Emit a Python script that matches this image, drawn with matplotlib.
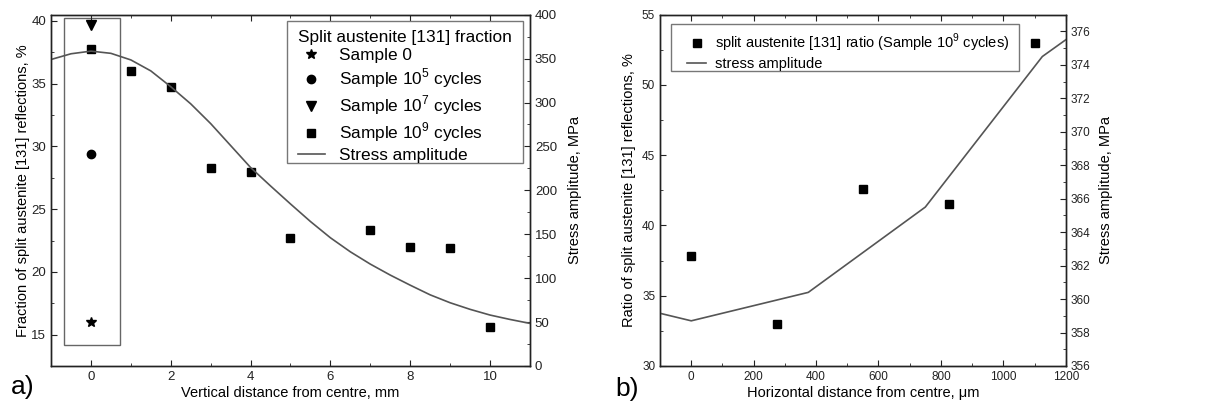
import matplotlib.pyplot as plt
from matplotlib.patches import Rectangle
from matplotlib.ticker import MultipleLocator

plt.rcParams['font.family'] = ['Liberation Sans', 'DejaVu Sans']
plt.rcParams['mathtext.fontset'] = 'custom'
plt.rcParams['mathtext.rm'] = 'Liberation Sans'

# panel a) data
pos_mm = [0, 1, 2, 3, 4, 5, 7, 8, 9, 10]
frac_1e9 = [37.8, 36.0, 34.7, 28.3, 28.0, 22.7, 23.3, 22.0, 21.9, 15.6]
frac_s0 = [16.0]
frac_1e5 = [29.4]
frac_1e7 = [39.7]

stress_mm = [-1, -0.5, 0, 0.5, 1, 1.5, 2, 2.5, 3, 3.5, 4, 4.5, 5, 5.5, 6, 6.5,
             7, 7.5, 8, 8.5, 9, 9.5, 10, 10.5, 11]
stress_a = [349, 355.5, 358.5, 356, 348.5, 336, 318, 298.5, 276, 251, 226, 205,
            184.5, 164.5, 146, 130, 116, 103.5, 92, 81, 72, 64.5, 58, 53, 48.5]

# panel b) data
pos_um = [0, 275, 550, 825, 1100]
ratio_1e9 = [37.8, 33.0, 42.6, 41.5, 53.0]
stress_um = [-100, 0, 375, 750, 1125, 1200]
stress_b = [359.15, 358.7, 360.4, 365.5, 374.5, 375.5]

line_col = '#555555'
fs_lab = 10.5

fig = plt.figure(figsize=(12.18, 4.15), dpi=100)
ax1 = fig.add_axes([0.0419, 0.1181, 0.3932, 0.8465])
ax2 = fig.add_axes([0.5419, 0.1181, 0.3331, 0.8465])


def style(ax, fs, top=True):
    ax.tick_params(which='both', direction='in', top=top, labelsize=fs,
                   colors='#222222')
    ax.tick_params(which='major', length=4)
    ax.tick_params(which='minor', length=2.5)
    for s in ax.spines.values():
        s.set_linewidth(1.0)
        s.set_color('#222222')


def legend_box(ax, x0, y0, x1, y1):
    ax.add_patch(Rectangle((x0, y0), x1 - x0, y1 - y0, transform=ax.transAxes,
                           facecolor='white', edgecolor='#777777', lw=1.0,
                           zorder=4, clip_on=False))


# ---- a)
ax1.add_patch(Rectangle((-0.67, 14.15), 1.41, 26.09, fill=False,
                        edgecolor='#666666', lw=1.0))
h_s0, = ax1.plot([0], frac_s0, '*', color='black', ms=7, ls='none')
h_1e5, = ax1.plot([0], frac_1e5, 'o', color='black', ms=6, ls='none')
h_1e7, = ax1.plot([0], frac_1e7, 'v', color='black', ms=7, ls='none')
h_1e9, = ax1.plot(pos_mm, frac_1e9, 's', color='black', ms=6, ls='none')
ax1.set_xlim(-1, 11)
ax1.set_ylim(12.5, 40.5)
ax1.xaxis.set_major_locator(MultipleLocator(2))
ax1.xaxis.set_minor_locator(MultipleLocator(1))
ax1.yaxis.set_major_locator(MultipleLocator(5))
ax1.yaxis.set_minor_locator(MultipleLocator(2.5))
ax1.set_xlabel('Vertical distance from centre, mm', fontsize=fs_lab, labelpad=2)
ax1.set_ylabel('Fraction of split austenite [131] reflections, %', fontsize=fs_lab,
               labelpad=1)
style(ax1, 9.5)

ax1r = ax1.twinx()
h_sa, = ax1r.plot(stress_mm, stress_a, '-', color=line_col, lw=1.2,
                  solid_joinstyle='round')
ax1r.set_ylim(0, 400)
ax1r.yaxis.set_major_locator(MultipleLocator(50))
ax1r.yaxis.set_minor_locator(MultipleLocator(25))
ax1r.set_ylabel('Stress amplitude, MPa', fontsize=fs_lab, labelpad=8)
style(ax1r, 9.5, top=False)

legend_box(ax1r, 0.4927, 0.5779, 0.9854, 0.982)
leg1 = ax1r.legend([h_s0, h_1e5, h_1e7, h_1e9, h_sa],
                   ['Sample 0', 'Sample 10$^5$ cycles', 'Sample 10$^7$ cycles',
                    'Sample 10$^9$ cycles', 'Stress amplitude'],
                   title='Split austenite [131] fraction', loc='upper left',
                   bbox_to_anchor=(0.515, 0.957), fontsize=12.4,
                   title_fontsize=12.4, frameon=False, alignment='left',
                   handlelength=1.6, borderpad=0, borderaxespad=0,
                   labelspacing=0.2, handletextpad=0.8)
leg1.set_zorder(5)

# ---- b)
h_r, = ax2.plot(pos_um, ratio_1e9, 's', color='black', ms=6, ls='none')
ax2.set_xlim(-100, 1200)
ax2.set_ylim(30, 55)
ax2.xaxis.set_major_locator(MultipleLocator(200))
ax2.xaxis.set_minor_locator(MultipleLocator(100))
ax2.yaxis.set_major_locator(MultipleLocator(5))
ax2.yaxis.set_minor_locator(MultipleLocator(2.5))
ax2.set_xlabel('Horizontal distance from centre, \u03bcm', fontsize=fs_lab, labelpad=2)
ax2.set_ylabel('Ratio of split austenite [131] reflections, %', fontsize=fs_lab,
               labelpad=4)
style(ax2, 8.5)

ax2r = ax2.twinx()
h_sb, = ax2r.plot(stress_um, stress_b, '-', color=line_col, lw=1.2)
ax2r.set_ylim(356, 377)
ax2r.yaxis.set_major_locator(MultipleLocator(2))
ax2r.yaxis.set_minor_locator(MultipleLocator(1))
ax2r.set_ylabel('Stress amplitude, MPa', fontsize=fs_lab, labelpad=6)
style(ax2r, 8.5, top=False)

legend_box(ax2r, 0.0271, 0.8397, 0.8856, 0.9735)
leg2 = ax2r.legend([h_r, h_sb],
                   ['split austenite [131] ratio (Sample 10$^9$ cycles)',
                    'stress amplitude'],
                   loc='upper left', bbox_to_anchor=(0.0666, 0.952),
                   fontsize=fs_lab, frameon=False, handlelength=1.3,
                   borderpad=0, borderaxespad=0, labelspacing=0.25,
                   handletextpad=0.6)
leg2.set_zorder(5)

fig.text(0.009, 0.05, 'a)', fontsize=19)
fig.text(0.505, 0.045, 'b)', fontsize=19)

fig.savefig('out.png', dpi=100)
